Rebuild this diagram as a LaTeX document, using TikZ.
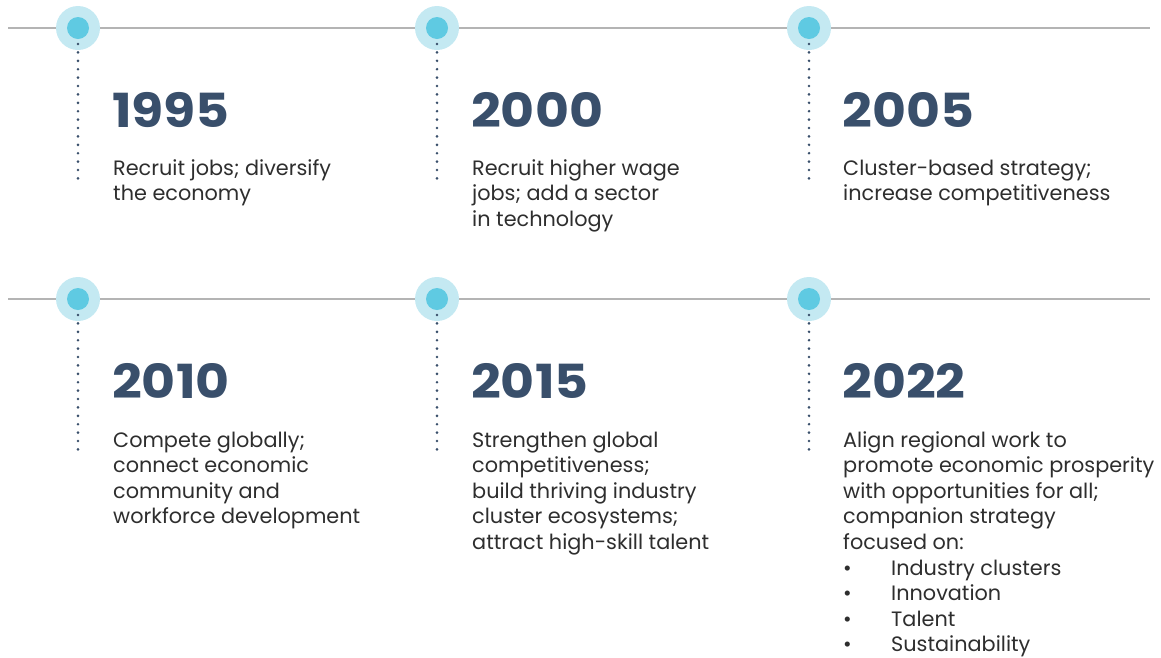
\documentclass[tikz,border=0pt]{standalone}
\usepackage{fontspec}
\setmainfont{Poppins}
\newfontfamily\yearfont[FakeStretch=1.11]{Poppins}
\definecolor{navy}{HTML}{394F6B}
\definecolor{bodytext}{HTML}{2E2E2E}
\definecolor{rule}{HTML}{B4B4B4}
\definecolor{halo}{HTML}{C4E9F2}
\definecolor{core}{HTML}{5FCAE2}
\begin{document}
\begin{tikzpicture}[x=1pt,y=-1pt,
  halostyle/.style={circle,fill=halo,minimum size=44pt,inner sep=0pt},
  corestyle/.style={circle,fill=core,minimum size=22pt,inner sep=0pt},
  rulestyle/.style={draw=rule,line width=1.3pt},
  dotline/.style={draw=navy,line width=2.9pt,line cap=round,dash pattern=on 0pt off 8.4pt},
  yearstyle/.style={anchor=base west,inner sep=0pt,text=navy,font=\yearfont\fontsize{47}{50}\selectfont\bfseries},
  bodystyle/.style={anchor=base west,inner sep=0pt,text=bodytext,font=\fontsize{20.8}{25}\selectfont}
]
\useasboundingbox (0,0) rectangle (1161,657);
% horizontal rules
\coordinate (r1a) at (8,28); \coordinate (r1b) at (1150,28);
\coordinate (r2a) at (8,299); \coordinate (r2b) at (1150,299);
\draw[rulestyle] (r1a) -- (r1b);
\draw[rulestyle] (r2a) -- (r2b);
% markers
\foreach \n/\x/\y in {m1/78/28, m2/437/28, m3/809/28, m4/78/299, m5/437/299, m6/809/299}{
  \node[halostyle] (\n) at (\x,\y) {};
  \node[corestyle] (\n c) at (\x,\y) {};
  \coordinate (\n e) at (\x,\y+154);
  \draw[dotline] ([yshift=-16pt]\n c.center) -- (\n e);
}
% years
\node[yearstyle] (y1995) at (112,127) {1995};
\node[yearstyle] (y2000) at (471,127) {2000};
\node[yearstyle] (y2005) at (842,127) {2005};
\node[yearstyle] (y2010) at (112,398) {2010};
\node[yearstyle] (y2015) at (471,398) {2015};
\node[yearstyle] (y2022) at (842,398) {2022};
% texts
\foreach \t [count=\i] in {{Recruit jobs; diversify},{the economy}}
  \node[bodystyle] (t1995-\i) at (113,175+25.6*\i-25.6) {\t};
\foreach \t [count=\i] in {{Recruit higher wage},{jobs; add a sector},{in technology}}
  \node[bodystyle] (t2000-\i) at (472,175+25.6*\i-25.6) {\t};
\foreach \t [count=\i] in {{Cluster-based strategy;},{increase competitiveness}}
  \node[bodystyle] (t2005-\i) at (843,175+25.6*\i-25.6) {\t};
\foreach \t [count=\i] in {{Compete globally;},{connect economic},{community and},{workforce development}}
  \node[bodystyle] (t2010-\i) at (113,447+25.6*\i-25.6) {\t};
\foreach \t [count=\i] in {{Strengthen global},{competitiveness;},{build thriving industry},{cluster ecosystems;},{attract high-skill talent}}
  \node[bodystyle] (t2015-\i) at (472,447+25.6*\i-25.6) {\t};
\foreach \t [count=\i] in {{Align regional work to},{promote economic prosperity},{with opportunities for all;},{companion strategy},{focused on:}}
  \node[bodystyle] (t2022-\i) at (843,447+25.6*\i-25.6) {\t};
\foreach \t [count=\i] in {{Industry clusters},{Innovation},{Talent},{Sustainability}}{
  \node[bodystyle] (b2022-\i) at (843,575+25.6*\i-25.6) {•};
  \node[bodystyle] (l2022-\i) at (891,575+25.6*\i-25.6) {\t};
}
\end{tikzpicture}
\end{document}
